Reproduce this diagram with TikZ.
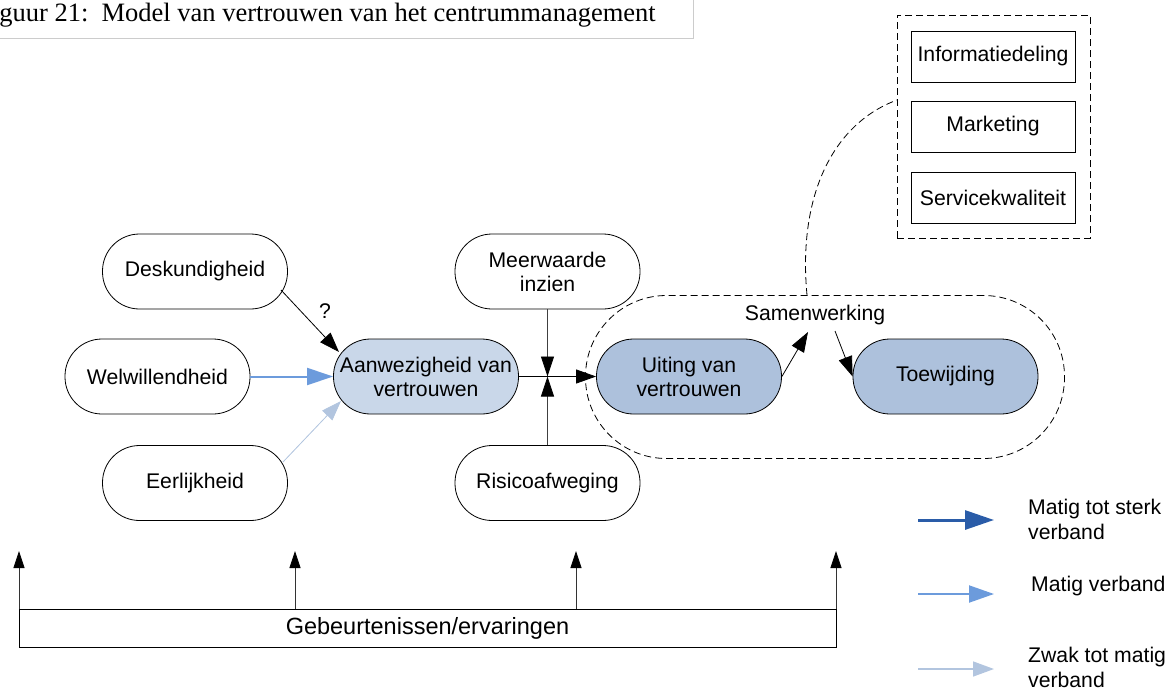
\documentclass[tikz,border=0pt]{standalone}
\usepackage{fontspec}
\setmainfont{Liberation Sans}
\newfontfamily\captionserif{Liberation Serif}
\usetikzlibrary{arrows.meta,calc}

\definecolor{trustlight}{HTML}{C9D7E9}
\definecolor{trustmid}{HTML}{ADC1DC}
\definecolor{relstrong}{HTML}{2A5CA8}
\definecolor{relmid}{HTML}{6C9BDC}
\definecolor{relweak}{HTML}{B2C5DF}

\begin{document}
\begin{tikzpicture}[x=1pt,y=-1pt,
  font=\fontsize{21.2}{24}\selectfont,
  pill/.style={draw, line width=0.8pt, rounded corners=37pt,
    minimum width=185pt, minimum height=75pt, inner sep=0pt, align=center},
  plainbox/.style={draw, line width=0.8pt, minimum width=164pt,
    minimum height=51pt, inner sep=0pt},
  grpline/.style={draw, line width=0.8pt, dash pattern=on 7pt off 4pt},
  blk/.style={line width=0.8pt, -{Triangle[length=20pt,width=14pt]}},
  junc/.style={line width=0.8pt, draw=black!75, -{Triangle[length=20pt,width=13pt,color=black]}},
  evarrow/.style={line width=0.8pt, draw=black!80, -{Triangle[length=17pt,width=11pt,color=black]}},
  legtext/.style={anchor=west, align=left, inner sep=0pt}
]
\useasboundingbox (0,0) rectangle (1170,689);

% caption strip
\draw[draw=black!20, line width=1pt] (-5,-5) rectangle (693,38);
\node[anchor=base west, inner sep=0pt, font=\captionserif\fontsize{26.5}{30}\selectfont]
  (cap) at (-23,21) {Figuur 21:\ \ Model van vertrouwen van het centrummanagement};

% antecedents of trust
\node[pill] (desk) at (195,271.5) {Deskundigheid};
\node[pill] (welw) at (157.5,376.5) {Welwillendheid};
\node[pill] (eerl) at (195,483) {Eerlijkheid};
\node[pill, fill=trustlight] (aanw) at (426,376.5) {Aanwezigheid van\\vertrouwen};

% moderators
\node[pill] (meer) at (547.5,271.5) {Meerwaarde\\inzien};
\node[pill] (risi) at (547.5,483) {Risicoafweging};
\coordinate (j) at (547.5,376.5);

% cooperation group
\node[grpline, rounded corners=81pt, minimum width=479pt, minimum height=163pt,
  inner sep=0pt] (samen) at (825,377) {};
\node[inner sep=1pt] (samlbl) at (815,315) {Samenwerking};
\node[pill, fill=trustmid] (uit) at (689,376.5) {Uiting van\\vertrouwen};
\node[pill, fill=trustmid] (toew) at (945.5,376.5) {Toewijding};

% domains of cooperation
\node[grpline, minimum width=193pt, minimum height=223pt, inner sep=0pt]
  (domain) at (993.5,126.5) {};
\node[plainbox] (info) at (993,56.5) {Informatiedeling};
\node[plainbox] (mark) at (993,126.5) {Marketing};
\node[plainbox] (serv) at (993,197.5) {Servicekwaliteit};

% events / experiences
\node[draw, line width=0.8pt, minimum width=817pt, minimum height=38pt, inner sep=0pt,
  font=\fontsize{23.5}{26}\selectfont]
  (ev) at (427.5,628) {Gebeurtenissen/ervaringen};

% connectors into the trust node
\coordinate (dstart) at (281,290);
\coordinate (dend) at (339,352);
\draw[blk] (dstart) -- (dend);
\node[inner sep=0pt] (qm) at (325,311) {?};
\draw[line width=2pt, draw=relmid, -{Triangle[length=26pt,width=17pt]}, fill=relmid]
  (welw.east) -- (aanw.west);
\coordinate (estart) at (283,462);
\coordinate (eend) at (341,401);
\draw[line width=0.8pt, draw=relweak, -{Triangle[length=20pt,width=14pt]}, fill=relweak]
  (estart) -- (eend);

% moderators meet at the junction
\draw[junc] (meer.south) -- (j);
\draw[junc] (risi.north) -- (j);
\draw[blk] (aanw.east) -- (uit.west);

% inside the cooperation group
\coordinate (samin) at (808,332);
\coordinate (samout) at (835,331);
\draw[blk] (uit.east) -- (samin);
\draw[blk] (samout) -- (toew.west);

\coordinate (curvestart) at (807,295);
\coordinate (curveend) at (897,100);
\draw[grpline] (curvestart) .. controls (798,200) and (830,125) .. (curveend);

% upward arrows from the events bar
\foreach \xx/\nm in {19/a,295/b,576/c,836/d}{
  \coordinate (evtop\nm) at (\xx,609);
  \coordinate (evtip\nm) at (\xx,551);
  \draw[evarrow] (evtop\nm) -- (evtip\nm);
}

% legend
\coordinate (l1a) at (918,520); \coordinate (l1b) at (994,520);
\coordinate (l2a) at (918,594); \coordinate (l2b) at (994,594);
\coordinate (l3a) at (918,669); \coordinate (l3b) at (994,669);
\draw[line width=3pt, draw=relstrong, fill=relstrong,
  -{Triangle[length=29pt,width=19pt]}] (l1a) -- (l1b);
\draw[line width=2pt, draw=relmid, fill=relmid,
  -{Triangle[length=25pt,width=17pt]}] (l2a) -- (l2b);
\draw[line width=1.5pt, draw=relweak, fill=relweak,
  -{Triangle[length=21pt,width=15pt]}] (l3a) -- (l3b);
\node[legtext, font=\fontsize{21.2}{25}\selectfont] (leg1) at (1028,519) {Matig tot sterk\\verband};
\node[legtext] (leg2) at (1031,586) {Matig verband};
\node[legtext, font=\fontsize{21.2}{25}\selectfont] (leg3) at (1028,667) {Zwak tot matig\\verband};
\end{tikzpicture}
\end{document}
